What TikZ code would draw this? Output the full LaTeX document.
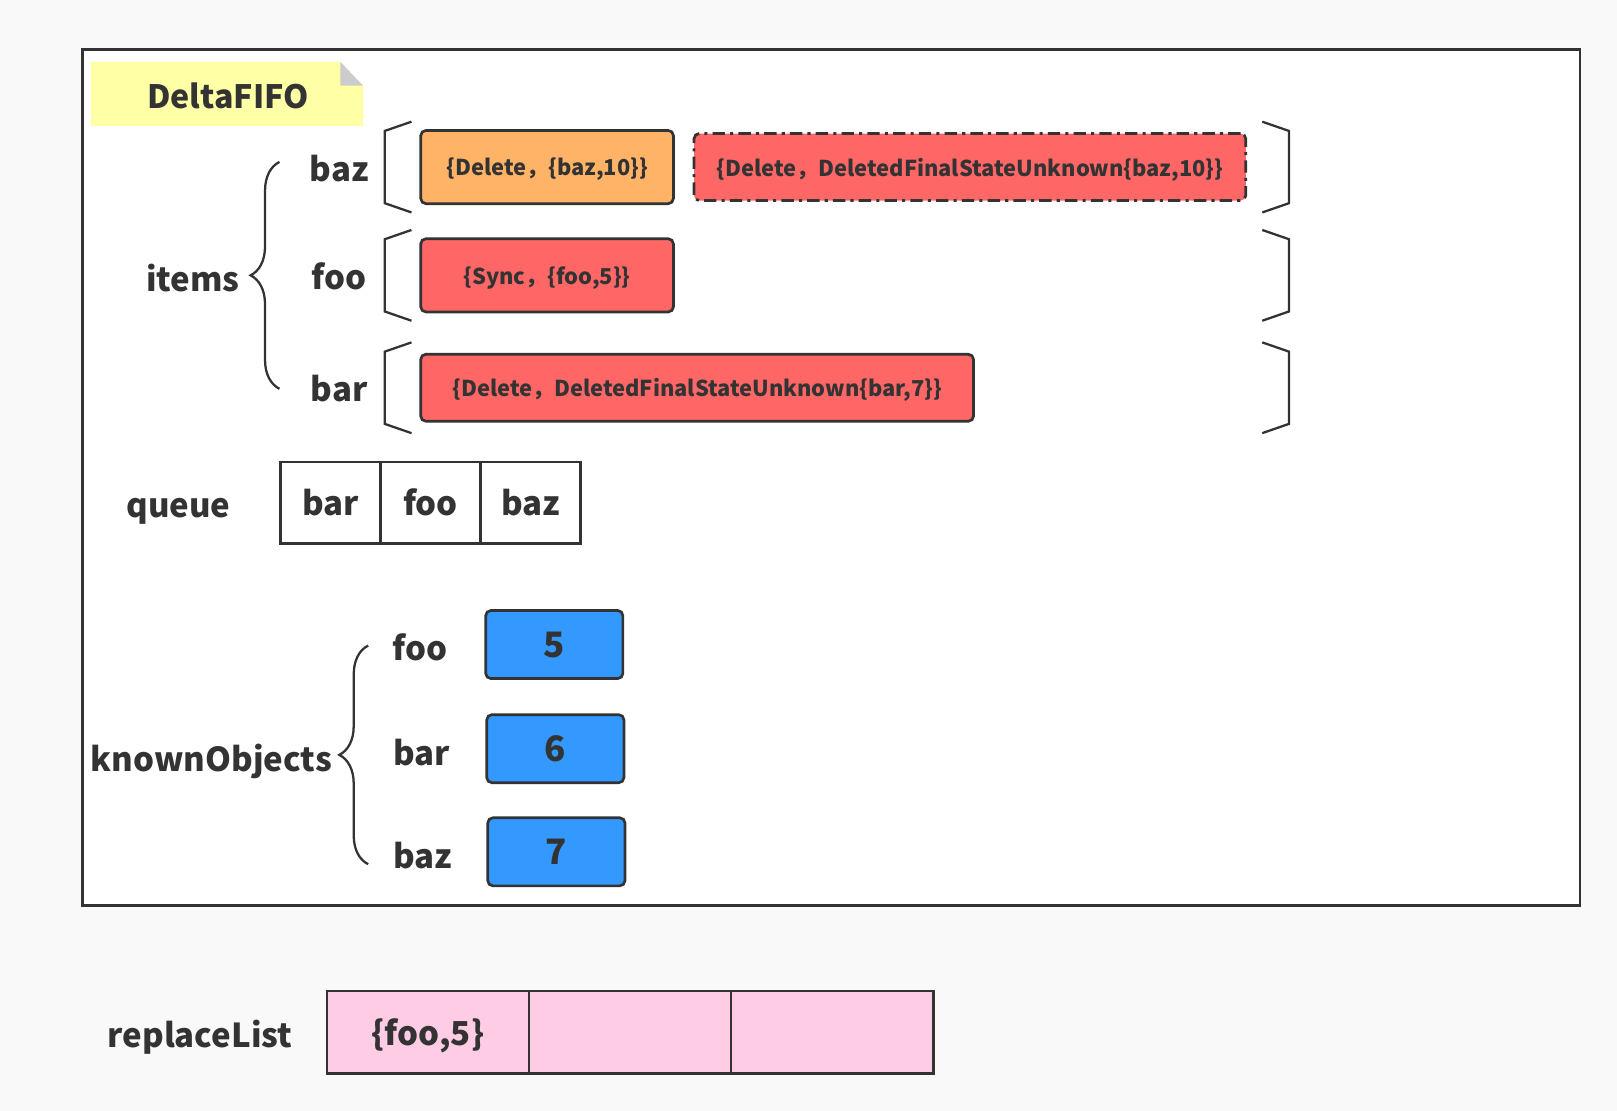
\documentclass[tikz,border=0pt]{standalone}
\usepackage{fontspec}
\setmainfont{Noto Sans CJK SC}
\usetikzlibrary{positioning,decorations.pathreplacing}

\definecolor{ink}{HTML}{333333}
\definecolor{paper}{HTML}{F9F9F9}
\definecolor{noteyellow}{HTML}{FFFFA6}
\definecolor{notefold}{HTML}{CCCCCC}
\definecolor{deltaorange}{HTML}{FFB366}
\definecolor{deltared}{HTML}{FF6666}
\definecolor{knownblue}{HTML}{3399FF}
\definecolor{replacepink}{HTML}{FFCCE6}

\begin{document}
\begin{tikzpicture}[
   x=0.5pt, y=-0.5pt,
   every node/.append style={text=ink, inner sep=0pt, outer sep=0pt},
   lbl/.style={font=\fontsize{16}{19}\selectfont\bfseries},
   delta/.style={draw=ink, line width=1.3pt, rounded corners=2.5pt, text depth=0pt,
                 font=\fontsize{10.6}{13}\selectfont\bfseries},
   cell/.style={draw=ink, line width=1.2pt, minimum width=48.5pt,
                minimum height=39.5pt, fill=white, lbl},
   known/.style={draw=ink, line width=1.3pt, rounded corners=2.5pt, fill=knownblue,
                 minimum width=66.5pt, minimum height=33pt,
                 font=\fontsize{17}{20}\selectfont\bfseries},
   repl/.style={draw=ink, line width=1.2pt, fill=replacepink, text depth=0pt,
                minimum width=98pt, minimum height=40pt, lbl},
   bracket/.style={draw=ink, line width=1.1pt},
   curly/.style={draw=ink, line width=1.1pt, decorate,
                 decoration={brace, amplitude=14pt}}
]
% page and frame
\fill[paper] (0,0) rectangle (1568,1077);
\draw[ink, line width=1.2pt, fill=white] (80,48) rectangle (1532,878);

% sticky note
\fill[noteyellow] (88,60) -- (330,60) -- (352,83) -- (352,122) -- (88,122) -- cycle;
\fill[notefold] (330,60) -- (352,83) -- (330,83) -- cycle;
\node[font=\fontsize{15.6}{19}\selectfont\bfseries] (title) at (221,93) {DeltaFIFO};

% items
\node[lbl] (items) at (187,270) {items};
\draw[curly] (271,377) -- (271,157);
\node[lbl] (kbaz) at (329,163) {baz};
\node[lbl] (kfoo) at (329,268) {foo};
\node[lbl] (kbar) at (329,377) {bar};

\draw[bracket] (399,118) -- (373,127) -- (373,197) -- (399,206);
\draw[bracket] (399,223) -- (373,232) -- (373,302) -- (399,311);
\draw[bracket] (399,332) -- (373,341) -- (373,411) -- (399,420);
\draw[bracket] (1224,118) -- (1250,127) -- (1250,197) -- (1224,206);
\draw[bracket] (1224,223) -- (1250,232) -- (1250,302) -- (1224,311);
\draw[bracket] (1224,332) -- (1250,341) -- (1250,411) -- (1224,420);

\node[delta, fill=deltaorange, minimum width=122.5pt, minimum height=35.5pt]
   (bazfirst) at (530.5,162) {\{Delete，\{baz,10\}\}};
\node[delta, fill=deltared, minimum width=267.5pt, minimum height=32.5pt,
      dash pattern=on 6pt off 2.5pt on 1.5pt off 2.5pt]   % <-- dash dot border
   (bazsecond) at (940.5,162) {\{Delete，DeletedFinalStateUnknown\{baz,10\}\}};
\node[delta, fill=deltared, minimum width=122.5pt, minimum height=35.5pt]
   (foofirst) at (530.5,267) {\{Sync，\{foo,5\}\}};
\node[delta, fill=deltared, minimum width=268pt, minimum height=32.5pt]
   (barfirst) at (676,376) {\{Delete，DeletedFinalStateUnknown\{bar,7\}\}};

% queue
\node[lbl] (queue) at (173,496) {queue};
\node[cell] (qbar) at (320.5,487.5) {bar};
\node[cell, right=0pt of qbar] (qfoo) {foo};
\node[cell, right=0pt of qfoo] (qbaz) {baz};

% knownObjects
\node[lbl] (knownObjects) at (205,738) {knownObjects};
\draw[curly] (357,838) -- (357,626);
\node[lbl] (ofoo) at (407,628) {foo};
\node[lbl] (obar) at (409,730) {bar};
\node[lbl] (obaz) at (410,830) {baz};
\node[known] (vfoo) at (537.5,625) {5};
\node[known] (vbar) at (538.5,726) {6};
\node[known] (vbaz) at (539.5,826) {7};

% replaceList
\node[lbl] (replaceList) at (194,1006) {replaceList};
\node[repl] (rfirst) at (415,1001) {\{foo,5\}};
\node[repl, right=0pt of rfirst] (rsecond) {};
\node[repl, right=0pt of rsecond] (rthird) {};
\end{tikzpicture}
\end{document}
